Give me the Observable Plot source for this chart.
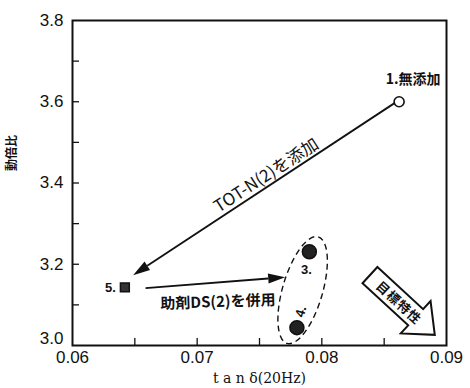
<!DOCTYPE html>
<html>
<head>
<meta charset="utf-8">
<script src="https://cdn.jsdelivr.net/npm/d3@7"></script>
<script src="https://cdn.jsdelivr.net/npm/@observablehq/plot@0.6"></script>
<style>
  html, body { margin: 0; padding: 0; background: #fff; }
  svg { display: block; }
</style>
</head>
<body>
<div id="chart"></div>
<script>
// ---- data ----
const pointLabels = ["1.無添加", "5.", "3.", "4."];
const tanDelta   = [0.0862, 0.0642, 0.0790, 0.0780];
const dynRatio   = [3.600, 3.143, 3.231, 3.044];
const pointKind  = ["open", "square", "filled", "filled"];

const xTicks = [0.06, 0.07, 0.08, 0.09];
const xMinorTicks = [0.065, 0.07, 0.075, 0.08, 0.085];
const yTicks = [3.0, 3.2, 3.4, 3.6, 3.8];
const yMinorTicks = [3.1, 3.2, 3.3, 3.4, 3.5, 3.6, 3.7];

const arrowLabels = ["TOT-N(2)を添加", "助剤DS(2)を併用"];
const arrowFromX = [0.0859, 0.0659];
const arrowFromY = [3.596, 3.140];
const arrowToX   = [0.0649, 0.0771];
const arrowToY   = [3.172, 3.167];

const targetLabel = "目標特性";
const targetFrom = [0.0839, 3.172];
const targetTo   = [0.0891, 3.025];

const xLabel = "t a n δ(20Hz)";
const yLabel = "動倍比";

const points = pointLabels.map((label, i) => ({label, x: tanDelta[i], y: dynRatio[i], kind: pointKind[i]}));
const arrows = arrowLabels.map((label, i) => ({label, x1: arrowFromX[i], y1: arrowFromY[i], x2: arrowToX[i], y2: arrowToY[i]}));

const FONT = "'Liberation Sans', 'Noto Sans CJK JP', sans-serif";
const JFONT = "'Noto Sans CJK JP', 'Liberation Sans', sans-serif";

// custom mark: arrows with filled heads
function arrowMark(index, scales) {
  const g = d3.create("svg:g");
  for (const a of arrows) {
    const x1 = scales.x(a.x1), y1 = scales.y(a.y1), x2 = scales.x(a.x2), y2 = scales.y(a.y2);
    const ang = Math.atan2(y2 - y1, x2 - x1);
    const hl = 17, hw = 5;
    const bx = x2 - hl * Math.cos(ang), by = y2 - hl * Math.sin(ang);
    const px = -Math.sin(ang), py = Math.cos(ang);
    g.append("line").attr("x1", x1).attr("y1", y1).attr("x2", bx).attr("y2", by)
      .attr("stroke", "#111").attr("stroke-width", 1.8);
    g.append("polygon")
      .attr("points", [[x2, y2], [bx + hw * px, by + hw * py], [bx - hw * px, by - hw * py]].map(p => p.join(",")).join(" "))
      .attr("fill", "#111");
  }
  return g.node();
}

// custom mark: dashed ellipse around points 3 and 4
function ellipseMark(index, scales) {
  const p3 = points[2], p4 = points[3];
  const ax = scales.x(p3.x), ay = scales.y(p3.y), bx = scales.x(p4.x), by = scales.y(p4.y);
  const cx = (ax + bx) / 2, cy = (ay + by) / 2 + 1;
  const half = Math.hypot(ax - bx, ay - by) / 2;
  const ang = Math.atan2(ay - by, ax - bx) * 180 / Math.PI;
  const g = d3.create("svg:g");
  g.append("ellipse").attr("cx", 0).attr("cy", 0).attr("rx", half + 17).attr("ry", 20)
    .attr("transform", `translate(${cx},${cy}) rotate(${ang + 7})`)
    .attr("fill", "none").attr("stroke", "#111").attr("stroke-width", 1.4)
    .attr("stroke-dasharray", "6,4");
  return g.node();
}

// custom mark: hollow target arrow
function targetMark(index, scales) {
  const x1 = scales.x(targetFrom[0]), y1 = scales.y(targetFrom[1]);
  const x2 = scales.x(targetTo[0]), y2 = scales.y(targetTo[1]);
  const L = Math.hypot(x2 - x1, y2 - y1);
  const ang = Math.atan2(y2 - y1, x2 - x1) * 180 / Math.PI;
  const bw = 11, hw = 22, hl = 26;
  const pts = [[0, -bw], [L - hl, -bw], [L - hl, -hw], [L, 0], [L - hl, hw], [L - hl, bw], [0, bw]];
  const g = d3.create("svg:g").attr("transform", `translate(${x1},${y1}) rotate(${ang})`);
  g.append("polygon").attr("points", pts.map(p => p.join(",")).join(" "))
    .attr("fill", "#fff").attr("stroke", "#111").attr("stroke-width", 2).attr("stroke-linejoin", "miter");
  g.append("text").attr("x", (L - hl) / 2 + 9).attr("y", 0)
    .attr("text-anchor", "middle").attr("dominant-baseline", "central")
    .attr("font-family", JFONT).attr("font-size", 13).attr("font-weight", "bold")
    .attr("fill", "#111").attr("letter-spacing", 1)
    .text(targetLabel);
  return g.node();
}

const chart = Plot.plot({
  width: 470,
  height: 388,
  marginLeft: 72,
  marginRight: 24,
  marginTop: 20,
  marginBottom: 43,
  style: {background: "#fff", fontFamily: FONT, color: "#111"},
  x: {domain: [0.06, 0.09], axis: null},
  y: {domain: [3.0, 3.8], axis: null},
  marks: [
    // inward ticks
    Plot.tickX(xMinorTicks, {x: d => d, insetTop: 318, stroke: "#111", strokeWidth: 1.3}),
    Plot.tickY(yMinorTicks, {y: d => d, insetRight: 367, stroke: "#111", strokeWidth: 1.3}),
    // tick labels
    Plot.text(xTicks, {x: d => d, text: d => d.toFixed(2), frameAnchor: "bottom", dy: 17, fontSize: 17, fill: "#111"}),
    Plot.text(yTicks.filter(d => d > 3.0), {y: d => d, text: d => d.toFixed(1), frameAnchor: "left", dx: -9, textAnchor: "end", fontSize: 17, fill: "#111"}),
    Plot.text(yTicks.filter(d => d === 3.0), {y: d => d, text: d => d.toFixed(1), frameAnchor: "left", dx: -9, dy: -7, textAnchor: "end", fontSize: 17, fill: "#111"}),
    // axis titles
    Plot.text([xLabel], {frameAnchor: "bottom", dy: 37, fontSize: 14, fontFamily: "'DejaVu Serif', serif", fill: "#111"}),
    Plot.text([yLabel], {frameAnchor: "left", dx: -60, dy: -12, rotate: -90, fontSize: 12, fontWeight: "bold", fontFamily: JFONT, fill: "#111"}),
    // annotations
    ellipseMark,
    arrowMark,
    targetMark,
    Plot.text(arrows.slice(0, 1), {x: d => (d.x1 + d.x2) / 2, y: d => (d.y1 + d.y2) / 2, text: "label", rotate: -33, dx: 2, dy: -14, fontSize: 17, fontFamily: JFONT, fill: "#111"}),
    Plot.text(arrows.slice(1, 2), {x: d => (d.x1 + d.x2) / 2, y: d => (d.y1 + d.y2) / 2, text: "label", rotate: -2, dx: 2, dy: 19, fontSize: 15, fontWeight: "bold", fontFamily: JFONT, fill: "#111"}),
    // points
    Plot.dot(points.filter(d => d.kind === "open"), {x: "x", y: "y", r: 5, fill: "#fff", stroke: "#111", strokeWidth: 1.6}),
    Plot.dot(points.filter(d => d.kind === "filled"), {x: "x", y: "y", r: 7, fill: "#222", stroke: "#111"}),
    Plot.dot(points.filter(d => d.kind === "square"), {x: "x", y: "y", r: 5, symbol: "square", fill: "#333", stroke: "#111"}),
    // point labels
    Plot.text(points.slice(0, 1), {x: "x", y: "y", text: "label", dx: 14, dy: -22, fontSize: 14, fontWeight: "bold", fontFamily: JFONT, fill: "#111"}),
    Plot.text(points.slice(1, 2), {x: "x", y: "y", text: "label", dx: -9, textAnchor: "end", fontSize: 13, fontWeight: "bold", fill: "#111"}),
    Plot.text(points.slice(2, 3), {x: "x", y: "y", text: "label", dx: -3, dy: 18, fontSize: 13, fontWeight: "bold", fill: "#111"}),
    Plot.text(points.slice(3, 4), {x: "x", y: "y", text: "label", dx: 4, dy: -16, rotate: -75, fontSize: 13, fontWeight: "bold", fill: "#111"}),
    Plot.frame({stroke: "#111", strokeWidth: 2})
  ]
});
document.getElementById("chart").append(chart);
</script>
</body>
</html>
